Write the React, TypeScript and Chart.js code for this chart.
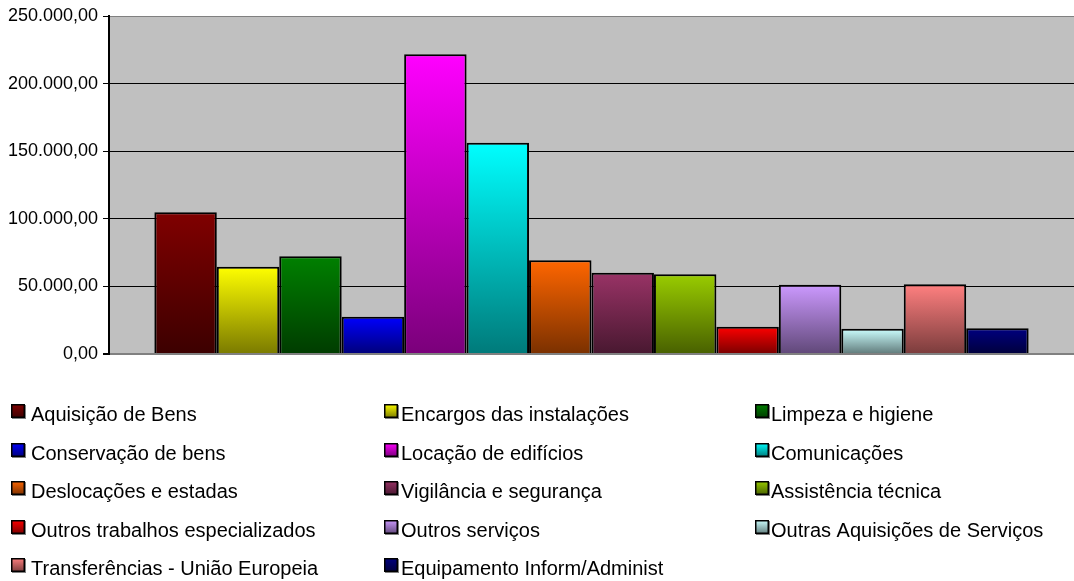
import React, { useEffect, useRef } from "react";
import { Chart, registerables } from "chart.js";

Chart.register(...registerables);

const seriesNames: string[] = [
  "Aquisição de Bens",
  "Encargos das instalações",
  "Limpeza e higiene",
  "Conservação de bens",
  "Locação de edifícios",
  "Comunicações",
  "Deslocações e estadas",
  "Vigilância e segurança",
  "Assistência técnica",
  "Outros trabalhos especializados",
  "Outros serviços",
  "Outras Aquisições de Serviços",
  "Transferências - União Europeia",
  "Equipamento Inform/Administ",
];

const seriesValues: number[] = [
  104800, 64600, 72300, 27600, 221700, 156300, 69300, 60100, 58900, 20200,
  51300, 18700, 51500, 19000,
];

const topColors: string[] = [
  "#800000", "#FFFF00", "#008000", "#0000FF", "#FF00FF", "#00FFFF", "#FF6600",
  "#993366", "#99CC00", "#FF0000", "#CC99FF", "#CCFFFF", "#FF8080", "#000080",
];

const bottomColors: string[] = [
  "#3c0000", "#7a7a00", "#003c00", "#00007a", "#7a007a", "#007a7a", "#7a3000",
  "#481830", "#486000", "#7a0000", "#604878", "#607a7a", "#7a3c3c", "#00003c",
];

const yTicks: number[] = [0, 50000, 100000, 150000, 200000, 250000];

const FONT = "Arial, 'Liberation Sans', sans-serif";

function fmt(v: number): string {
  const s = Math.round(v).toString().replace(/\B(?=(\d{3})+(?!\d))/g, ".");
  return s + ",00";
}

const plotBg = {
  id: "plotBg",
  beforeDraw(chart: any) {
    const { ctx, chartArea } = chart;
    if (!chartArea) return;
    ctx.save();
    ctx.fillStyle = "#C0C0C0";
    ctx.fillRect(chartArea.left, chartArea.top, chartArea.right - chartArea.left, chartArea.bottom - chartArea.top);
    ctx.restore();
  },
};

const gridLegend = {
  id: "gridLegend",
  afterDraw(chart: any) {
    const ctx = chart.ctx;
    const boxX = [11, 384, 755];
    const textX = [31, 401, 771];
    const rowY0 = 411;
    const rowStep = 38.5;
    ctx.save();
    ctx.font = `20px ${FONT}`;
    ctx.textBaseline = "alphabetic";
    ctx.textAlign = "left";
    seriesNames.forEach((name, i) => {
      const col = i % 3;
      const row = Math.floor(i / 3);
      const cy = rowY0 + row * rowStep;
      const bx = boxX[col];
      const by = Math.round(cy - 7);
      const g = ctx.createLinearGradient(0, by, 0, by + 14);
      g.addColorStop(0, topColors[i]);
      g.addColorStop(1, bottomColors[i]);
      ctx.fillStyle = "#808080";
      ctx.fillRect(bx + 1, by + 1, 14, 14);
      ctx.fillStyle = g;
      ctx.fillRect(bx, by, 14, 14);
      ctx.strokeStyle = "#000";
      ctx.lineWidth = 1.5;
      ctx.strokeRect(bx + 0.75, by + 0.75, 12.5, 12.5);
      ctx.fillStyle = "#000";
      ctx.fillText(name, textX[col], cy + 10);
    });
    ctx.restore();
  },
};

export default function App() {
  const ref = useRef<HTMLCanvasElement | null>(null);

  useEffect(() => {
    document.body.style.margin = "0";
    const canvas = ref.current;
    if (!canvas) return;

    const datasets = seriesNames.map((name, i) => ({
      label: name,
      data: [seriesValues[i]],
      backgroundColor: (c: any) => {
        const chart = c.chart;
        const y = chart.scales && chart.scales.y;
        if (!y || c.type !== "data") return topColors[i];
        const top = y.getPixelForValue(c.raw);
        const bottom = y.getPixelForValue(0);
        if (!isFinite(top) || !isFinite(bottom) || bottom - top < 1) return topColors[i];
        const g = chart.ctx.createLinearGradient(0, top, 0, bottom);
        g.addColorStop(0, topColors[i]);
        g.addColorStop(1, bottomColors[i]);
        return g;
      },
      borderColor: "#000000",
      borderWidth: 2,
      categoryPercentage: 0.906,
      barPercentage: 1,
    }));

    const chart = new Chart(canvas, {
      type: "bar",
      data: { labels: [""], datasets },
      options: {
        animation: false,
        responsive: false,
        maintainAspectRatio: false,
        devicePixelRatio: 1,
        layout: { padding: { top: 16, bottom: 227, left: 0, right: 0 } },
        plugins: {
          legend: { display: false },
          tooltip: { enabled: false },
          title: { display: false },
        },
        scales: {
          x: { display: false },
          y: {
            min: 0,
            max: 250000,
            afterFit: (scale: any) => {
              scale.width = 109;
            },
            afterBuildTicks: (scale: any) => {
              scale.ticks = yTicks.map((v) => ({ value: v }));
            },
            ticks: {
              color: "#000",
              font: { family: FONT, size: 18 },
              padding: 5,
              callback: (v: any) => fmt(Number(v)),
            },
            grid: {
              color: (c: any) =>
                c.tick && (c.tick.value === 250000 || c.tick.value === 0) ? "#808080" : "#000000",
              lineWidth: (c: any) => (c.tick && c.tick.value === 0 ? 2 : 1),
              tickColor: "#000000",
              tickLength: 6,
              drawTicks: true,
            },
            border: { color: "#000000", width: 2 },
          },
        },
      },
      plugins: [plotBg, gridLegend],
    });

    return () => chart.destroy();
  }, []);

  return <canvas ref={ref} width={1074} height={581} style={{ display: "block" }} />;
}
